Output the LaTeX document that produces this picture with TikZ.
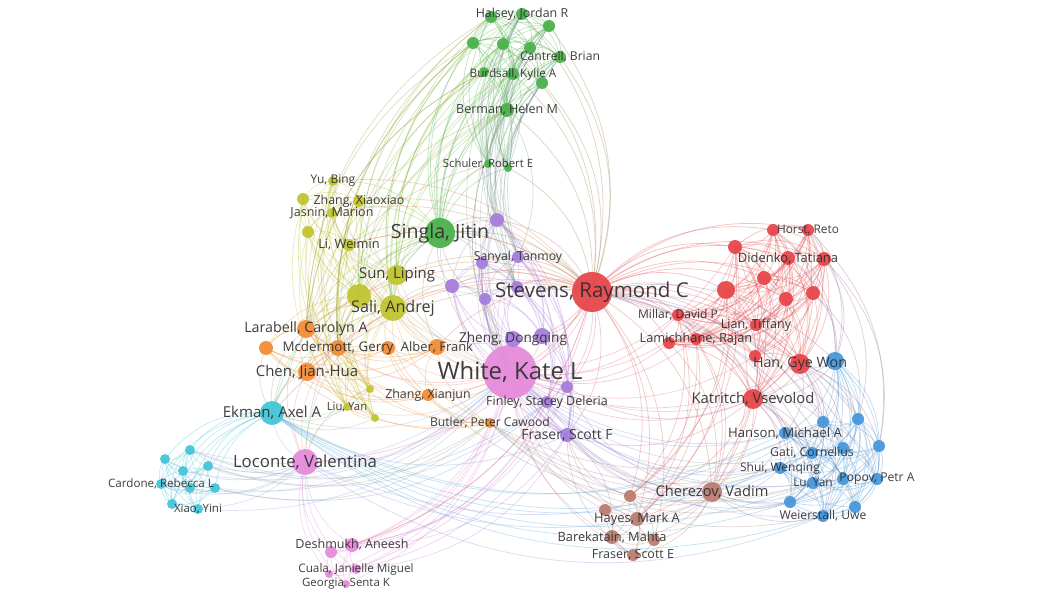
\documentclass[tikz,border=0pt]{standalone}
\usepackage{fontspec}
\setmainfont{Open Sans}
\pgfdeclarelayer{back}
\pgfdeclarelayer{bg}
\pgfsetlayers{back,bg,main}
\definecolor{cG}{HTML}{4CB24C}
\definecolor{cY}{HTML}{C2C434}
\definecolor{cO}{HTML}{F28E38}
\definecolor{cC}{HTML}{46C6D8}
\definecolor{cP}{HTML}{E68CDC}
\definecolor{cU}{HTML}{A67EDC}
\definecolor{cR}{HTML}{E6484C}
\definecolor{cB}{HTML}{4898DC}
\definecolor{cW}{HTML}{BA7E70}
\definecolor{labc}{HTML}{2E2E2E}
\newdimen\eXa \newdimen\eYa \newdimen\eXb \newdimen\eYb
\tikzset{
  vnode/.style={circle, inner sep=0pt, draw=none, fill opacity=0.95},
  vlab/.style={text=labc, inner sep=0pt, text opacity=0.92},
  vedge/.style={line width=0.55pt, opacity=0.33}
}
\newcommand\mknode[5]{\node[vnode, fill=#4, minimum size={1.5*#5pt}] (#1) at (#2,#3) {};%
  \expandafter\xdef\csname cl@#1\endcsname{#4}}
\newcommand\mklab[3]{\node[vlab, font=\fontsize{#2}{#2}\selectfont] (lab#1) at (#1.center) {#3};}
\newcommand\lnk[2]{%
  \pgfextractx{\eXa}{\pgfpointanchor{#1}{center}}%
  \pgfextracty{\eYa}{\pgfpointanchor{#1}{center}}%
  \pgfextractx{\eXb}{\pgfpointanchor{#2}{center}}%
  \pgfextracty{\eYb}{\pgfpointanchor{#2}{center}}%
  \pgfmathsetmacro\bnd{28*sign(((\eYa-\eYb)/100)*((\eXa+\eXb)/200-3.9)+((\eXb-\eXa)/100)*((\eYa+\eYb)/200+2.475))}%
  \edef\ca{\csname cl@#1\endcsname}\edef\cb{\csname cl@#2\endcsname}%
  \colorlet{ec}{\ca!50!\cb}%
  \draw[vedge, color=ec] (#1.center) to[bend left=\bnd] (#2.center);}
\newcommand\mkclique[1]{\foreach \a [count=\i] in {#1}{\foreach \b [count=\j] in {#1}{\ifnum\j>\i \lnk{\a}{\b}\fi}}}
\newcommand\mkhub[2]{\foreach \b in {#2}{\lnk{#1}{\b}}}
\newcommand\mkcross[2]{\foreach \a in {#1}{\foreach \b in {#2}{\lnk{\a}{\b}}}}
\begin{document}
\begin{tikzpicture}[x=0.75pt,y=-0.75pt]
\begin{pgfonlayer}{back}
\fill[white] (0,0) rectangle (1049,599);
\end{pgfonlayer}
\useasboundingbox (0,0) rectangle (1049,599);
% green
\mknode{g1}{491}{17}{cG}{6}
\mknode{g2}{522}{14}{cG}{6}
\mknode{g3}{549}{26}{cG}{6}
\mknode{g4}{473}{43}{cG}{6}
\mknode{g5}{503}{44}{cG}{6}
\mknode{g6}{530}{48}{cG}{6}
\mknode{g7}{560}{57}{cG}{6}
\mknode{g8}{484}{72}{cG}{5}
\mknode{g9}{513}{74}{cG}{6}
\mknode{g10}{542}{83}{cG}{6}
\mknode{g11}{507}{110}{cG}{7}
\mknode{g12}{488}{164}{cG}{4}
\mknode{g13}{508}{168}{cG}{4}
\mknode{gS}{440}{233}{cG}{15}
% yellow
\mknode{y1}{333}{181}{cY}{5}
\mknode{y2}{303}{199}{cY}{6}
\mknode{y3}{359}{201}{cY}{6}
\mknode{y4}{332}{213}{cY}{5}
\mknode{y5}{308}{232}{cY}{6}
\mknode{y6}{349}{245}{cY}{6}
\mknode{y7}{397}{275}{cY}{10}
\mknode{y8}{359}{296}{cY}{12}
\mknode{y9}{393}{308}{cY}{13}
\mknode{y10}{370}{389}{cY}{4}
\mknode{y11}{347}{407}{cY}{4}
\mknode{y12}{375}{418}{cY}{4}
% orange
\mknode{o1}{306}{329}{cO}{9}
\mknode{o2}{266}{348}{cO}{7}
\mknode{o3}{338}{348}{cO}{8}
\mknode{o4}{388}{348}{cO}{7}
\mknode{o5}{437}{347}{cO}{8}
\mknode{o6}{307}{372}{cO}{9}
\mknode{o7}{428}{395}{cO}{6}
\mknode{o8}{490}{423}{cO}{5}
% cyan
\mknode{c0}{272}{413}{cC}{12}
\mknode{c1}{190}{450}{cC}{5}
\mknode{c2}{165}{459}{cC}{5}
\mknode{c3}{183}{471}{cC}{5}
\mknode{c4}{208}{466}{cC}{5}
\mknode{c5}{161}{484}{cC}{5}
\mknode{c6}{190}{488}{cC}{5}
\mknode{c7}{215}{488}{cC}{5}
\mknode{c8}{172}{504}{cC}{5}
\mknode{c9}{198}{509}{cC}{5}
% pink
\mknode{p0}{510}{372}{cP}{27}
\mknode{p1}{305}{462}{cP}{13}
\mknode{p2}{352}{545}{cP}{7}
\mknode{p3}{331}{552}{cP}{6}
\mknode{p4}{356}{569}{cP}{5}
\mknode{p5}{329}{574}{cP}{4}
\mknode{p6}{346}{584}{cP}{4}
% purple
\mknode{u1}{497}{220}{cU}{7}
\mknode{u2}{482}{263}{cU}{6}
\mknode{u3}{518}{257}{cU}{6}
\mknode{u4}{452}{286}{cU}{7}
\mknode{u5}{517}{287}{cU}{6}
\mknode{u6}{485}{299}{cU}{6}
\mknode{u7}{513}{339}{cU}{8}
\mknode{u8}{542}{336}{cU}{8}
\mknode{u9}{567}{387}{cU}{6}
\mknode{u10}{547}{402}{cU}{6}
\mknode{u11}{567}{435}{cU}{7}
% red
\mknode{r0}{592}{292}{cR}{20}
\mknode{r1}{773}{230}{cR}{6}
\mknode{r2}{808}{230}{cR}{6}
\mknode{r3}{735}{247}{cR}{7}
\mknode{r4}{788}{258}{cR}{7}
\mknode{r5}{824}{259}{cR}{7}
\mknode{r6}{764}{278}{cR}{7}
\mknode{r7}{726}{290}{cR}{9}
\mknode{r8}{786}{299}{cR}{7}
\mknode{r9}{813}{293}{cR}{7}
\mknode{r10}{678}{315}{cR}{6}
\mknode{r11}{756}{325}{cR}{6}
\mknode{r12}{669}{343}{cR}{6}
\mknode{r13}{696}{339}{cR}{6}
\mknode{r14}{755}{356}{cR}{6}
\mknode{r15}{800}{364}{cR}{10}
\mknode{r16}{753}{399}{cR}{10}
% blue
\mknode{b1}{835}{361}{cB}{9}
\mknode{b2}{823}{422}{cB}{6}
\mknode{b3}{858}{419}{cB}{6}
\mknode{b4}{879}{446}{cB}{6}
\mknode{b5}{785}{433}{cB}{6}
\mknode{b6}{812}{453}{cB}{6}
\mknode{b7}{843}{448}{cB}{6}
\mknode{b8}{780}{468}{cB}{6}
\mknode{b9}{813}{483}{cB}{6}
\mknode{b10}{843}{479}{cB}{6}
\mknode{b11}{877}{479}{cB}{6}
\mknode{b12}{790}{502}{cB}{6}
\mknode{b13}{855}{507}{cB}{6}
\mknode{b14}{823}{516}{cB}{6}
% brown
\mknode{w0}{712}{492}{cW}{10}
\mknode{w1}{630}{496}{cW}{6}
\mknode{w2}{605}{510}{cW}{6}
\mknode{w3}{637}{519}{cW}{7}
\mknode{w4}{612}{537}{cW}{7}
\mknode{w5}{654}{540}{cW}{6}
\mknode{w6}{633}{555}{cW}{6}
% labels
\mklab{g2}{9.3}{Halsey, Jordan R}
\mklab{g7}{9.1}{Cantrell, Brian}
\mklab{g9}{8.8}{Burdsall, Kylie A}
\mklab{g11}{9.4}{Berman, Helen M}
\mklab{g12}{8.5}{Schuler, Robert E}
\mklab{gS}{14.7}{Singla, Jitin}
\mklab{y1}{9}{Yu, Bing}
\mklab{y3}{9.3}{Zhang, Xiaoxiao}
\mklab{y4}{9.4}{Jasnin, Marion}
\mklab{y6}{9.6}{Li, Weimin}
\mklab{y7}{11.2}{Sun, Liping}
\mklab{y9}{12.1}{Sali, Andrej}
\mklab{y11}{8.5}{Liu, Yan}
\mklab{o1}{10.7}{Larabell, Carolyn A}
\mklab{o3}{10}{Mcdermott, Gerry}
\mklab{o5}{9.7}{Alber, Frank}
\mklab{o6}{11.2}{Chen, Jian-Hua}
\mklab{o7}{9.3}{Zhang, Xianjun}
\mklab{o8}{9.1}{Butler, Peter Cawood}
\mklab{c0}{11.3}{Ekman, Axel A}
\mklab{c5}{8.7}{Cardone, Rebecca L}
\mklab{c9}{8.6}{Xiao, Yini}
\mklab{p0}{17.9}{White, Kate L}
\mklab{p1}{12.6}{Loconte, Valentina}
\mklab{p2}{9.4}{Deshmukh, Aneesh}
\mklab{p4}{8.8}{Cuala, Janielle Miguel}
\mklab{p6}{8.6}{Georgia, Senta K}
\mklab{u3}{9.2}{Sanyal, Tanmoy}
\mklab{u7}{10.2}{Zheng, Dongqing}
\mklab{u10}{9.4}{Finley, Stacey Deleria}
\mklab{u11}{10.5}{Fraser, Scott F}
\mklab{r0}{15.4}{Stevens, Raymond C}
\mklab{r2}{8.9}{Horst, Reto}
\mklab{r4}{9.7}{Didenko, Tatiana}
\mklab{r10}{9}{Millar, David P}
\mklab{r11}{9.4}{Lian, Tiffany}
\mklab{r13}{9.6}{Lamichhane, Rajan}
\mklab{r15}{10.7}{Han, Gye Won}
\mklab{r16}{11.1}{Katritch, Vsevolod}
\mklab{b5}{9.9}{Hanson, Michael A}
\mklab{b6}{9.2}{Gati, Cornelius}
\mklab{b8}{9}{Shui, Wenqing}
\mklab{b9}{8.9}{Lu, Yan}
\mklab{b11}{9.1}{Popov, Petr A}
\mklab{b14}{9.1}{Weierstall, Uwe}
\mklab{w0}{11}{Cherezov, Vadim}
\mklab{w3}{9.7}{Hayes, Mark A}
\mklab{w4}{9.6}{Barekatain, Mahta}
\mklab{w6}{9.4}{Fraser, Scott E}
% edges
\begin{pgfonlayer}{bg}
\mkclique{g1,g2,g3,g4,g5,g6,g7,g8,g9,g10,g11,g12,g13,gS}
\mkclique{y1,y2,y3,y4,y5,y6,y7,y8,y9,y10,y11,y12}
\mkclique{o1,o2,o3,o4,o5,o6,o7,o8}
\mkclique{c0,c1,c2,c3,c4,c5,c6,c7,c8,c9}
\mkclique{p1,p2,p3,p4,p5,p6}
\mkclique{u1,u2,u3,u4,u5,u6,u7,u8,u9,u10,u11}
\mkclique{r0,r1,r2,r3,r4,r5,r6,r7,r8,r9,r10,r11,r12,r13,r14,r15,r16}
\mkclique{b1,b2,b3,b4,b5,b6,b7,b8,b9,b10,b11,b12,b13,b14}
\mkclique{w0,w1,w2,w3,w4,w5,w6}
\mkhub{p0}{r0,r3,r7,r10,r12,r13,r14,r15,r16,b1,b2,b5,b6,b8,b9,b10,b12,b14,w0,w1,w2,w3,w4,w6,u1,u2,u3,u4,u5,u6,u7,u8,u9,u10,u11,o1,o3,o4,o5,o6,o7,o8,y7,y8,y9,y11,gS,g11,c0,c3,c5,c9,p1,p2,p3,p4,p5,p6}
\mkhub{r0}{b1,b2,b3,b5,b6,b7,b9,b11,b13,w0,w1,w3,w5,g2,g3,g5,g7,g9,g10,g11,g13,gS,u1,u2,u3,u4,u5,u6,u7,u8,u9,u10,u11,y6,y7,y8,y9,o1,o3,o5,o6,o7,c0,p1,p2}
\mkhub{gS}{y1,y3,y4,y6,y7,y8,y9,u1,u2,u3,u4,u5,u6,o1,o3,o5,o6,p1,c0}
\mkhub{y9}{o1,o2,o3,o4,o5,o6,o7,o8,g11,g12,g4,c0,p1,u4,u6,u7}
\mkhub{y8}{o1,o2,o3,o6,c0,g9,g11,g2}
\mkhub{y7}{g11,g5,u1,u4,o3,o5}
\mkhub{c0}{o1,o2,o3,o6,y10,y11,y12,p1,b5,b8,b12,b9,u11}
\mkhub{p1}{c1,c2,c4,c5,c6,c8,o6,o1,o3,y11,y10}
\mkhub{r16}{b1,b2,b5,b6,b8,b9,b12,b14,w0,w1,w3,u11,u9}
\mkhub{r15}{b1,b2,b3,b4,b5,b6,b7,b9,b11,b14}
\mkhub{w0}{b5,b8,b9,b12,b14,b10,r14,r12,u9,u10,u11}
\mkhub{b1}{r1,r2,r5,r9,r4}
\mkhub{b3}{r5,r9}
\mkhub{b4}{r2,r5}
\mkhub{b8}{o8,u10}
\mkhub{b12}{o8,u11}
\mkhub{b9}{o7,o8}
\mkhub{u11}{w1,w3,w4,w6}
\mkhub{o1}{g11,g12,g8}
\mkhub{o3}{g11,g4}
\mkhub{p2}{u9,u10,o8}
\mkhub{p3}{u10}
\mkhub{p4}{u9}
\mkcross{g2,g3,g6,g7,g10,g11}{p0,u1,u3,u5}
\mkcross{g5,g9}{y9,y7}
\mkcross{g1,g4,g8}{y8,y9,o1,o3}
\mkcross{y1,y3,y4,y6}{r0,p0}
\mkcross{r3,r7,r10,r13}{w0,w1,w3}
\mkcross{b2,b6,b14}{c0,p1,o8}
\mkcross{c1,c4,c7}{p0,o8,u10}
\mkcross{p2,p4}{r0,u11}
\end{pgfonlayer}
\end{tikzpicture}
\end{document}
